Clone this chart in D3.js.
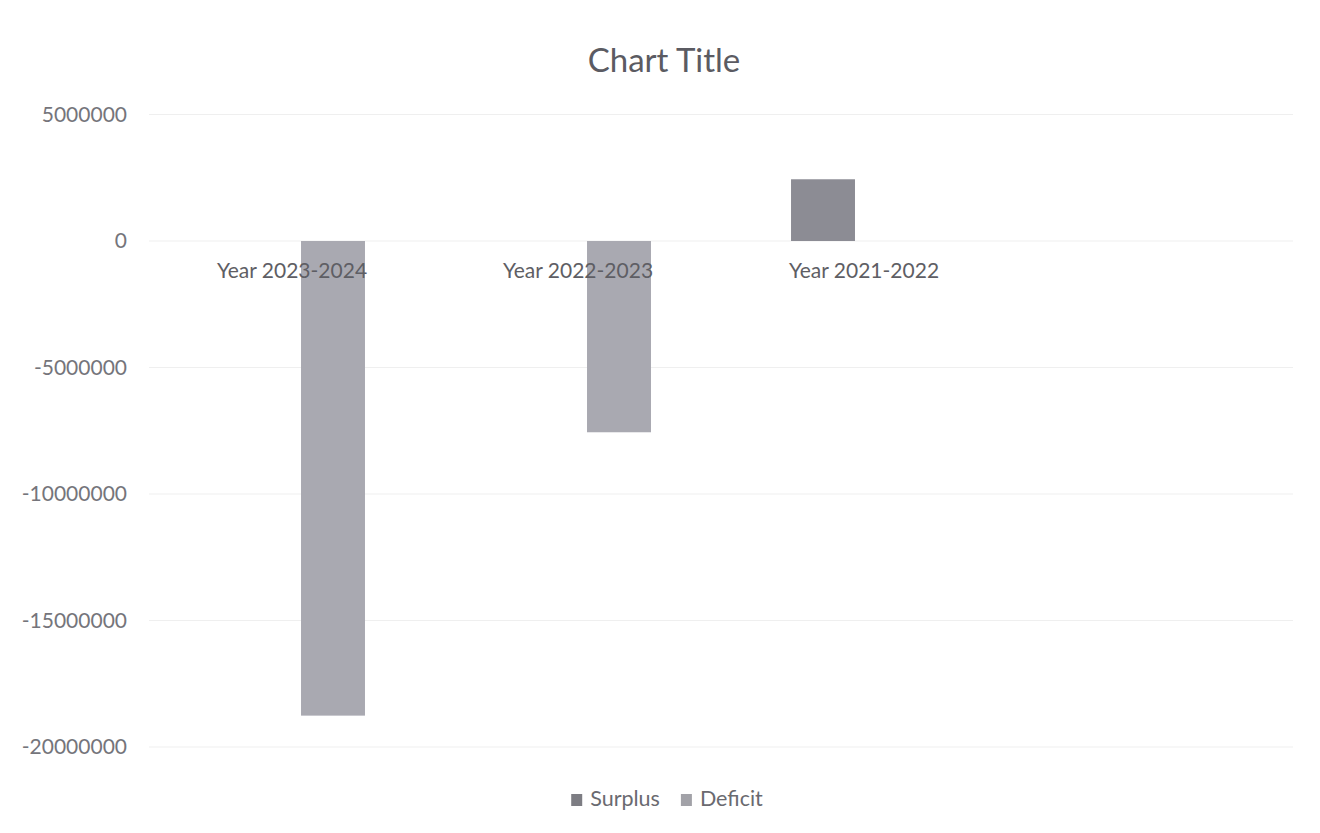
<!DOCTYPE html>
<html>
<head>
<meta charset="utf-8">
<script src="https://cdn.jsdelivr.net/npm/d3@7"></script>
<style>
  html, body { margin: 0; padding: 0; background: #ffffff; }
  svg { display: block; }
  text { font-family: Lato, "Open Sans", sans-serif; }
</style>
</head>
<body>
<svg id="chart" width="1320" height="833"></svg>
<script>
// Data
const categories = ["Year 2023-2024", "Year 2022-2023", "Year 2021-2022", ""];
const seriesNames = ["Surplus", "Deficit"];
const surplus = [null, null, 2440000, null];
const deficit = [-18760000, -7560000, null, null];
const yTickValues = [5000000, 0, -5000000, -10000000, -15000000, -20000000];
const chartTitle = "Chart Title";

const colors = { Surplus: "#8c8c94", Deficit: "#a9a9b1" };
const legendColors = { Surplus: "#7d7d83", Deficit: "#a2a2a8" };

const svg = d3.select("#chart");
const plot = { left: 149, right: 1293, top: 114.5, bottom: 747 };

const x = d3.scaleBand().domain(categories).range([plot.left, plot.right]).paddingInner(0).paddingOuter(0);
const xs = d3.scaleBand().domain(seriesNames).range([0, x.bandwidth()]).paddingInner(0.22).paddingOuter(0.854);
const y = d3.scaleLinear().domain([-20000000, 5000000]).range([plot.bottom, plot.top]);

// Title
svg.append("text")
  .attr("x", 664).attr("y", 72)
  .attr("text-anchor", "middle")
  .attr("font-size", 33)
  .attr("fill", "#5b5b62")
  .text(chartTitle);

// Horizontal gridlines
svg.append("g").selectAll("line")
  .data(yTickValues)
  .join("line")
  .attr("x1", plot.left).attr("x2", plot.right)
  .attr("y1", d => y(d)).attr("y2", d => y(d))
  .attr("stroke", "#efefef").attr("stroke-width", 1);

// Value axis
const yAxis = d3.axisLeft(y)
  .tickValues(yTickValues)
  .tickFormat(d => String(d))
  .tickSize(0)
  .tickPadding(22);
const gy = svg.append("g").attr("transform", `translate(${plot.left},0)`).call(yAxis);
gy.select(".domain").remove();
gy.selectAll("text").attr("font-size", 21).attr("fill", "#75757b").attr("font-family", "Lato, sans-serif");

// Bars
const rows = categories.map((c, i) => ({ cat: c, Surplus: surplus[i], Deficit: deficit[i] }));
const barData = [];
rows.forEach(r => seriesNames.forEach(s => { if (r[s] != null) barData.push({ cat: r.cat, series: s, value: r[s] }); }));

svg.append("g").selectAll("rect")
  .data(barData)
  .join("rect")
  .attr("x", d => x(d.cat) + xs(d.series))
  .attr("width", xs.bandwidth())
  .attr("y", d => y(Math.max(0, d.value)))
  .attr("height", d => Math.abs(y(d.value) - y(0)))
  .attr("fill", d => colors[d.series]);

// Category axis at zero
const xAxis = d3.axisBottom(x).tickSize(0).tickPadding(22);
const gx = svg.append("g").attr("transform", `translate(0,${y(0)})`).call(xAxis);
gx.select(".domain").remove();
gx.selectAll("text").attr("font-size", 21).attr("fill", "#5e5e64").attr("font-family", "Lato, sans-serif");

// Legend
const legend = svg.append("g");
const items = legend.selectAll("g").data(seriesNames).join("g");
items.append("rect").attr("width", 11).attr("height", 12).attr("y", -12)
  .attr("fill", d => legendColors[d]);
items.append("text").attr("x", 19).attr("y", 0)
  .attr("font-size", 21.5).attr("fill", "#6a6a70")
  .text(d => d);
let offset = 0;
items.each(function () {
  const g = d3.select(this);
  g.attr("transform", `translate(${offset},0)`);
  offset += 19 + g.select("text").node().getComputedTextLength() + 21;
});
const legendWidth = offset - 21;
legend.attr("transform", `translate(${667 - legendWidth / 2},806)`);
</script>
</body>
</html>
